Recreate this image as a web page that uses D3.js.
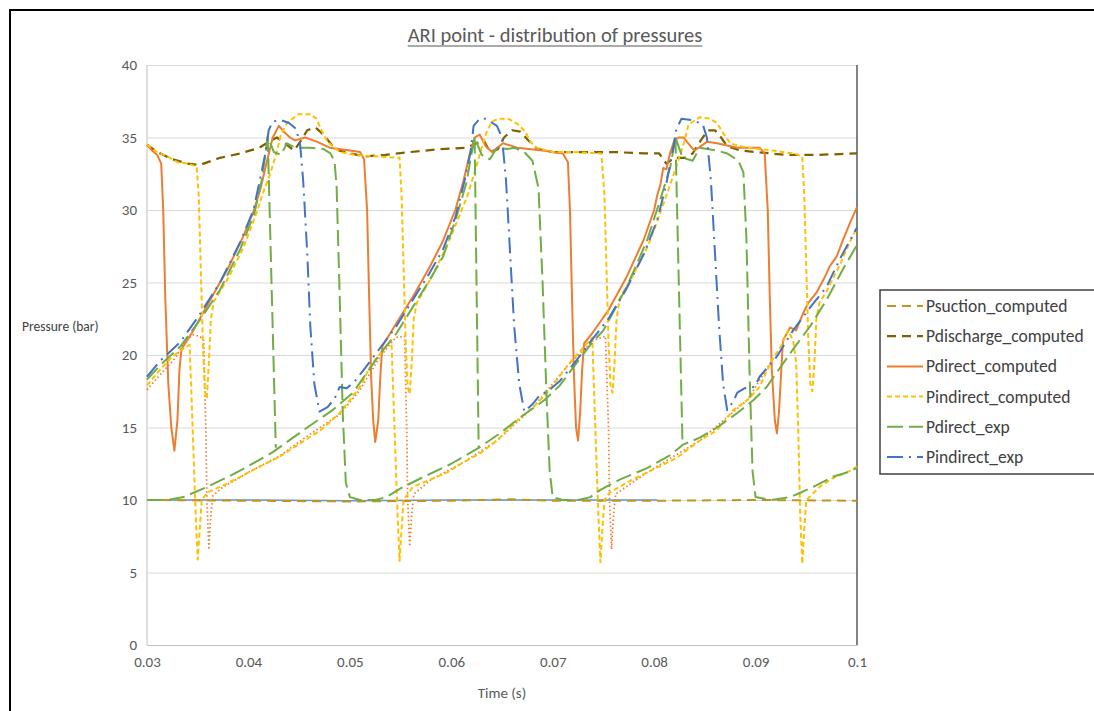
<!DOCTYPE html>
<html>
<head>
<meta charset="utf-8">
<script src="https://cdn.jsdelivr.net/npm/d3@7/dist/d3.min.js"></script>
<style>
  body { margin: 0; background: #fff; }
  svg text { font-family: Carlito, Calibri, Lato, sans-serif; }
</style>
</head>
<body>
<svg id="chart" width="1094" height="711"></svg>
<script>
// Tick labels
const xTicks = [0.03, 0.04, 0.05, 0.06, 0.07, 0.08, 0.09, 0.1];
const xTickLabels = ['0.03', '0.04', '0.05', '0.06', '0.07', '0.08', '0.09', '0.1'];
const yTicks = [0, 5, 10, 15, 20, 25, 30, 35, 40];

// [time (s), pressure (bar)], null = break in the line
const psuctionComputed = [
  [0.030, 10.0], [0.040, 9.95], [0.050, 9.9], [0.060, 9.95], [0.066, 10.05], [0.070, 9.95],
  [0.080, 9.95], [0.090, 10.0], [0.100, 9.95]
];

const pdischargeComputed = [
  [0.0300, 34.5], [0.0310, 34.0], [0.0325, 33.5], [0.0340, 33.2], [0.0352, 33.1], [0.0372, 33.6],
  [0.0392, 33.9], [0.0411, 34.3], [0.0420, 34.7], [0.0428, 35.0], [0.0436, 34.6], [0.0445, 34.1],
  [0.0452, 34.8], [0.0458, 35.5], [0.0466, 35.7], [0.0474, 35.2], [0.0482, 34.5], [0.0490, 34.1],
  [0.0500, 33.9], [0.0515, 33.7], [0.0535, 33.8], [0.0560, 34.0], [0.0590, 34.2], [0.0615, 34.3],
  [0.0625, 34.6], [0.0632, 34.8], [0.0638, 34.0], [0.0646, 34.2], [0.0652, 35.0], [0.0660, 35.5],
  [0.0668, 35.4], [0.0676, 34.8], [0.0685, 34.2], [0.0700, 34.0], [0.0730, 34.0], [0.0760, 34.0],
  [0.0790, 33.9], [0.0805, 33.9], [0.0812, 33.2], [0.0820, 33.6], [0.0830, 33.6], [0.0838, 33.9],
  [0.0846, 34.8], [0.0853, 35.5], [0.0860, 35.5], [0.0866, 35.0], [0.0872, 34.4], [0.0885, 34.1],
  [0.0900, 34.0], [0.0930, 33.8], [0.0960, 33.8], [0.1000, 33.9]
];

const pdirectComputed = [
  [0.0300, 34.5], [0.0305, 34.1], [0.0310, 33.8], [0.0314, 33.2], [0.0316, 30.0], [0.0318, 24.0],
  [0.0321, 18.0], [0.0324, 15.0], [0.0327, 13.4], [0.0330, 15.5], [0.0332, 19.0], [0.0334, 20.4],
  [0.0345, 21.6], [0.0360, 23.5], [0.0380, 26.0], [0.0395, 28.2], [0.0405, 29.9], [0.0412, 31.5],
  [0.0418, 33.3], [0.0424, 35.0], [0.0430, 35.8], [0.0435, 35.4], [0.0441, 35.0], [0.0446, 34.8],
  [0.0456, 35.0], [0.0468, 34.7], [0.0480, 34.3], [0.0500, 34.1], [0.0510, 34.0], [0.0514, 33.5],
  [0.0517, 30.0], [0.0519, 24.0], [0.0521, 18.5], [0.0523, 15.5], [0.0525, 14.0], [0.0528, 15.5],
  [0.0530, 18.5], [0.0532, 20.6], [0.0546, 22.2], [0.0562, 24.0], [0.0579, 26.1], [0.0592, 27.9],
  [0.0604, 30.0], [0.0612, 32.0], [0.0618, 33.8], [0.0623, 35.0], [0.0628, 35.2], [0.0634, 34.4],
  [0.0640, 34.0], [0.0651, 34.6], [0.0665, 34.3], [0.0690, 34.1], [0.0710, 33.9], [0.0715, 33.3],
  [0.0717, 30.0], [0.0719, 24.0], [0.0721, 18.5], [0.0723, 15.0], [0.0725, 14.1], [0.0727, 16.0],
  [0.0729, 19.0], [0.0731, 20.8], [0.0740, 21.6], [0.0755, 23.1], [0.0773, 25.4], [0.0790, 28.0],
  [0.0800, 30.0], [0.0803, 31.0], [0.0806, 31.7], [0.0809, 32.9], [0.0812, 32.8], [0.0816, 34.0],
  [0.0820, 34.8], [0.0824, 35.0], [0.0829, 35.0], [0.0837, 34.3], [0.0840, 34.1], [0.0852, 34.7],
  [0.0862, 34.6], [0.0882, 34.3], [0.0904, 34.3], [0.0909, 33.9], [0.0912, 30.0], [0.0914, 24.0],
  [0.0916, 19.0], [0.0919, 15.5], [0.0921, 14.6], [0.0923, 16.0], [0.0925, 18.5], [0.0927, 21.0],
  [0.0934, 21.9], [0.0940, 21.7], [0.0947, 22.9], [0.0952, 23.6], [0.0960, 24.3], [0.0967, 25.2],
  [0.0973, 26.1], [0.0980, 26.8], [0.0986, 27.9], [0.0993, 29.1], [0.1000, 30.2]
];

const pindirectComputed = [
  // high branch
  [0.0300, 34.5], [0.0310, 34.0], [0.0320, 33.7], [0.0330, 33.3], [0.0340, 33.2], [0.0349, 33.0],
  [0.0351, 31.0], [0.0353, 26.0], [0.0355, 21.0], [0.0357, 17.5], [0.0359, 17.0], [0.0361, 19.5],
  [0.0363, 22.5], [0.0366, 23.7], [0.0380, 25.3], [0.0395, 27.4], [0.0408, 29.8], [0.0416, 31.5],
  [0.0421, 32.4], [0.0425, 33.3], [0.0428, 34.0], [0.0432, 35.2], [0.0438, 36.0], [0.0449, 36.6],
  [0.0461, 36.6], [0.0467, 36.3], [0.0472, 35.5], [0.0478, 34.7], [0.0490, 34.0], [0.0505, 33.8],
  [0.0525, 33.7], [0.0549, 33.6], [0.0551, 31.0], [0.0553, 26.0], [0.0555, 21.0], [0.0557, 17.8],
  [0.0559, 17.3], [0.0561, 19.5], [0.0563, 22.5], [0.0566, 23.6], [0.0580, 25.3], [0.0595, 27.4],
  [0.0608, 29.6], [0.0616, 31.0], [0.0623, 32.6], [0.0630, 34.3], [0.0635, 35.4], [0.0640, 36.1],
  [0.0647, 36.3], [0.0656, 36.3], [0.0666, 35.9], [0.0673, 35.4], [0.0678, 34.7], [0.0684, 34.3],
  [0.0700, 34.0], [0.0720, 34.0], [0.0748, 33.9], [0.0751, 31.0], [0.0753, 26.0], [0.0755, 21.0],
  [0.0757, 17.8], [0.0759, 17.4], [0.0761, 19.5], [0.0763, 22.5], [0.0766, 23.9], [0.0780, 25.6],
  [0.0793, 27.4], [0.0803, 29.2], [0.0812, 31.0], [0.0820, 32.6], [0.0828, 34.3], [0.0834, 35.9],
  [0.0845, 36.4], [0.0855, 36.3], [0.0862, 36.0], [0.0868, 35.3], [0.0875, 34.6], [0.0891, 34.3],
  [0.0917, 34.1], [0.0937, 33.9], [0.0946, 33.7], [0.0948, 31.0], [0.0950, 26.0], [0.0952, 21.0],
  [0.0954, 18.0], [0.0956, 17.5], [0.0958, 19.5], [0.0960, 22.5], [0.0963, 23.6], [0.0970, 24.4],
  [0.0983, 26.2], [0.0993, 27.8], [0.1000, 28.8],
  null,
  // low branch
  [0.0300, 17.9], [0.0313, 19.0], [0.0325, 19.9], [0.0335, 20.4], [0.0342, 20.7], [0.0345, 15.0],
  [0.0348, 9.0], [0.0350, 5.9], [0.0352, 8.0], [0.0354, 10.0], [0.0359, 10.5], [0.0372, 10.9],
  [0.0392, 11.6], [0.0411, 12.3], [0.0431, 13.0], [0.0451, 13.9], [0.0471, 14.8], [0.0490, 16.0],
  [0.0510, 17.8], [0.0520, 19.2], [0.0532, 20.3], [0.0541, 21.0], [0.0544, 15.0], [0.0547, 9.0],
  [0.0549, 5.8], [0.0551, 8.0], [0.0553, 10.0], [0.0558, 10.5], [0.0562, 10.9], [0.0579, 11.4],
  [0.0596, 11.9], [0.0612, 12.6], [0.0628, 13.2], [0.0645, 14.1], [0.0665, 15.5], [0.0681, 16.4],
  [0.0697, 17.6], [0.0715, 19.3], [0.0730, 20.5], [0.0739, 21.2], [0.0742, 15.0], [0.0745, 9.0],
  [0.0747, 5.7], [0.0749, 8.0], [0.0751, 10.0], [0.0756, 10.5], [0.0773, 11.2], [0.0793, 11.9],
  [0.0808, 12.4], [0.0822, 12.9], [0.0845, 14.1], [0.0862, 14.8], [0.0878, 16.2], [0.0892, 16.9],
  [0.0904, 17.8], [0.0915, 19.5], [0.0925, 20.6], [0.0932, 21.7], [0.0937, 21.0], [0.0940, 19.5],
  [0.0942, 15.0], [0.0944, 9.0], [0.0946, 5.6], [0.0948, 8.0], [0.0950, 10.0], [0.0956, 10.4],
  [0.0963, 10.9], [0.0976, 11.5], [0.0990, 11.9], [0.1000, 12.3]
];

const pdirectExp = [
  [0.0300, 18.3], [0.0313, 19.3], [0.0333, 20.6], [0.0352, 22.4], [0.0372, 24.5], [0.0392, 27.3],
  [0.0406, 29.8], [0.0413, 32.0], [0.0417, 34.0], [0.0419, 35.1], [0.0425, 34.0], [0.0432, 33.8],
  [0.0438, 34.6], [0.0446, 34.3], [0.0460, 34.3], [0.0474, 34.2], [0.0481, 33.9], [0.0485, 33.3],
  [0.0487, 31.5], [0.0490, 24.0], [0.0493, 16.0], [0.0496, 11.2], [0.0500, 10.2], [0.0510, 10.0],
  [0.0525, 10.0], [0.0536, 10.2], [0.0550, 10.8], [0.0570, 11.5], [0.0600, 12.5], [0.0627, 13.6],
  [0.0648, 14.6], [0.0668, 15.7], [0.0692, 16.9], [0.0707, 17.9], [0.0722, 19.3], [0.0737, 20.7],
  [0.0750, 21.7], [0.0773, 24.7], [0.0793, 27.9], [0.0806, 30.7], [0.0816, 33.0], [0.0821, 35.0],
  [0.0828, 33.6], [0.0838, 33.4], [0.0845, 34.3], [0.0862, 34.1], [0.0872, 33.9], [0.0883, 33.4],
  [0.0888, 32.6], [0.0891, 28.0], [0.0894, 19.0], [0.0897, 12.0], [0.0900, 10.2], [0.0915, 10.0],
  [0.0934, 10.2], [0.0944, 10.5], [0.0957, 10.9], [0.0976, 11.6], [0.0990, 11.9], [0.1000, 12.2],
  null,
  [0.0300, 10.0], [0.0320, 10.0], [0.0336, 10.2], [0.0359, 10.9], [0.0380, 11.6], [0.0399, 12.3],
  [0.0424, 13.3], [0.0444, 14.3], [0.0458, 15.0], [0.0483, 16.2], [0.0503, 17.4], [0.0515, 18.6],
  [0.0530, 20.1], [0.0546, 21.5], [0.0562, 23.3], [0.0579, 25.2], [0.0592, 26.8], [0.0605, 29.5],
  [0.0615, 31.9], [0.0620, 33.9], [0.0623, 35.0], [0.0630, 33.8], [0.0638, 33.5], [0.0645, 34.3],
  [0.0655, 34.2], [0.0662, 34.3], [0.0672, 34.0], [0.0680, 33.4], [0.0686, 31.5], [0.0690, 25.0],
  [0.0694, 17.0], [0.0697, 12.0], [0.0700, 10.2], [0.0710, 10.0], [0.0725, 10.0], [0.0737, 10.2],
  [0.0747, 10.7], [0.0766, 11.4], [0.0793, 12.2], [0.0816, 13.1], [0.0828, 13.8], [0.0845, 14.3],
  [0.0862, 15.0], [0.0882, 16.0], [0.0898, 16.9], [0.0911, 17.8], [0.0921, 18.8], [0.0937, 20.4],
  [0.0954, 22.0], [0.0970, 23.8], [0.0986, 25.9], [0.0996, 27.1], [0.1000, 27.6],
  null,
  [0.0419, 35.1], [0.0427, 13.6],
  null,
  [0.0623, 35.0], [0.0627, 13.6],
  null,
  [0.0821, 35.0], [0.0828, 13.8]
];

const pindirectExp = [
  [0.0300, 18.5], [0.0313, 19.6], [0.0333, 20.9], [0.0352, 22.8], [0.0372, 25.0], [0.0392, 27.8],
  [0.0405, 30.0], [0.0412, 32.3], [0.0417, 34.0], [0.0420, 35.5], [0.0424, 36.1], [0.0432, 36.2],
  [0.0440, 36.0], [0.0447, 35.6], [0.0451, 34.5], [0.0454, 32.0], [0.0458, 27.0], [0.0461, 22.0],
  [0.0465, 18.0], [0.0470, 16.1], [0.0478, 16.4], [0.0485, 17.0], [0.0490, 17.8], [0.0497, 17.7],
  [0.0505, 18.2], [0.0515, 19.1], [0.0530, 20.5], [0.0546, 22.0], [0.0562, 23.8], [0.0579, 25.7],
  [0.0592, 27.3], [0.0604, 29.5], [0.0613, 32.0], [0.0619, 34.0], [0.0622, 35.8], [0.0628, 36.3],
  [0.0634, 36.3], [0.0645, 35.8], [0.0650, 35.0], [0.0654, 32.0], [0.0658, 27.0], [0.0662, 22.0],
  [0.0667, 18.0], [0.0672, 16.1], [0.0680, 16.6], [0.0687, 17.2], [0.0697, 17.6], [0.0707, 18.2],
  [0.0722, 19.5], [0.0737, 20.9], [0.0755, 22.5], [0.0773, 24.6], [0.0790, 27.0], [0.0803, 29.3],
  [0.0812, 31.8], [0.0818, 34.0], [0.0822, 35.6], [0.0827, 36.3], [0.0838, 36.2], [0.0848, 35.9],
  [0.0852, 35.0], [0.0856, 32.0], [0.0860, 27.0], [0.0864, 22.0], [0.0868, 18.0], [0.0872, 16.2],
  [0.0878, 16.8], [0.0882, 17.4], [0.0889, 17.7], [0.0899, 17.8], [0.0904, 18.5], [0.0921, 19.9],
  [0.0937, 21.7], [0.0954, 23.3], [0.0970, 24.7], [0.0983, 26.6], [0.0993, 27.9], [0.1000, 28.8]
];

// series not in the legend
const psuctionExp = [[0.030, 10.0], [0.040, 10.0], [0.050, 9.95], [0.060, 10.0], [0.070, 10.0], [0.0803, 10.0]];

const pindirectComputedAlt = [
  [0.0300, 17.6], [0.0315, 18.8], [0.0328, 19.8], [0.0338, 21.0], [0.0345, 21.4], [0.0352, 21.3],
  [0.0356, 21.0], [0.0358, 15.0], [0.0359, 10.0], [0.0361, 6.7], [0.0363, 9.0], [0.0365, 10.3],
  [0.0375, 10.9], [0.0400, 11.9], [0.0430, 13.0], [0.0460, 14.5], [0.0490, 15.9], [0.0510, 17.6],
  [0.0530, 19.9], [0.0545, 21.2], [0.0554, 21.3], [0.0556, 15.0], [0.0557, 10.0], [0.0559, 6.8],
  [0.0561, 9.0], [0.0563, 10.4], [0.0580, 11.4], [0.0612, 12.6], [0.0645, 14.1], [0.0681, 16.4],
  [0.0715, 19.3], [0.0740, 21.0], [0.0752, 21.3], [0.0755, 15.0], [0.0756, 10.0], [0.0758, 6.6],
  [0.0760, 9.0], [0.0762, 10.4], [0.0793, 11.9], [0.0845, 14.1], [0.0892, 16.9], [0.0915, 19.5]
];

const series = [
  {name: null, data: psuctionExp, color: '#5B9BD5', dash: null, width: 1.5},
  {name: null, data: pindirectComputedAlt, color: '#ED7D31', dash: '1.5,2.5', width: 1.75},
  {name: 'Psuction_computed', data: psuctionComputed, color: '#C4941F', dash: '9,6', width: 2},
  {name: 'Pdischarge_computed', data: pdischargeComputed, color: '#7F6000', dash: '9,6', width: 2.25},
  {name: 'Pdirect_computed', data: pdirectComputed, color: '#ED7D31', dash: null, width: 2},
  {name: 'Pindirect_computed', data: pindirectComputed, color: '#FFC000', dash: '5,3', width: 2},
  {name: 'Pdirect_exp', data: pdirectExp, color: '#70AD47', dash: '16,6', width: 2},
  {name: 'Pindirect_exp', data: pindirectExp, color: '#4472C4', dash: '16,6,2,6', width: 2}
];

// Set the dimensions of the graph
const margin = {top: 65, right: 237, bottom: 66, left: 147};
const width = 1094 - margin.left - margin.right;
const height = 711 - margin.top - margin.bottom;

const svg = d3.select('#chart');

// outer frame of the chart
svg.append('rect')
  .attr('x', 10).attr('y', 10)
  .attr('width', 1110).attr('height', 720)
  .attr('fill', 'none').attr('stroke', '#000').attr('stroke-width', 2);

const g = svg.append('g')
  .attr('transform', `translate(${margin.left}, ${margin.top})`);

const x = d3.scaleLinear().domain([0.03, 0.1]).range([0, width]);
const y = d3.scaleLinear().domain([0, 40]).range([height, 0]);

// gridlines + y labels
const yAxis = d3.axisLeft(y)
  .tickValues(yTicks)
  .tickSize(-width)
  .tickPadding(10)
  .tickFormat(d3.format('d'));

g.append('g').attr('class', 'y axis').call(yAxis)
  .call(a => a.select('.domain').remove())
  .call(a => a.selectAll('line').attr('stroke', '#D9D9D9').attr('stroke-width', 1))
  .call(a => a.selectAll('text').attr('fill', '#595959').attr('font-size', 15));

const xAxis = d3.axisBottom(x)
  .tickValues(xTicks)
  .tickSize(0)
  .tickPadding(11)
  .tickFormat((d, i) => xTickLabels[i]);

g.append('g').attr('class', 'x axis')
  .attr('transform', `translate(0, ${height})`)
  .call(xAxis)
  .call(a => a.select('.domain').attr('stroke', '#BFBFBF'))
  .call(a => a.selectAll('text').attr('fill', '#595959').attr('font-size', 15));

// left axis line and right border of the plot area
g.append('line').attr('x1', 0).attr('x2', 0).attr('y1', 0).attr('y2', height)
  .attr('stroke', '#BFBFBF');
g.append('line').attr('x1', width).attr('x2', width).attr('y1', 0).attr('y2', height)
  .attr('stroke', '#595959').attr('stroke-width', 1.5);

// Define the line
const valueline = d3.line()
  .defined(d => d !== null)
  .x(d => x(d[0]))
  .y(d => y(d[1]));

series.forEach(s => {
  g.append('path')
    .attr('d', valueline(s.data))
    .attr('fill', 'none')
    .attr('stroke', s.color)
    .attr('stroke-width', s.width)
    .attr('stroke-dasharray', s.dash)
    .attr('stroke-linejoin', 'round');
});

// title
const title = svg.append('text')
  .attr('x', 555).attr('y', 42)
  .attr('text-anchor', 'middle')
  .attr('fill', '#595959')
  .attr('font-size', 20.5)
  .text('ARI point - distribution of pressures');
const tw = title.node().getComputedTextLength();
svg.append('line')
  .attr('x1', 555 - tw / 2).attr('x2', 555 + tw / 2)
  .attr('y1', 46).attr('y2', 46)
  .attr('stroke', '#595959').attr('stroke-width', 1.2);

// axis titles
svg.append('text')
  .attr('x', 22).attr('y', 331)
  .attr('fill', '#404040')
  .attr('font-size', 13.5)
  .text('Pressure (bar)');

svg.append('text')
  .attr('x', margin.left + width / 2).attr('y', 698)
  .attr('text-anchor', 'middle')
  .attr('fill', '#595959')
  .attr('font-size', 15)
  .text('Time (s)');

// legend
const legendItems = series.filter(s => s.name);
const legend = svg.append('g').attr('transform', 'translate(880, 290)');
legend.append('rect')
  .attr('width', 240).attr('height', 184)
  .attr('fill', '#fff').attr('stroke', '#404040').attr('stroke-width', 1.5);

legendItems.forEach((s, i) => {
  const ly = 16 + i * 30.2;
  legend.append('line')
    .attr('x1', 7).attr('x2', 43)
    .attr('y1', ly).attr('y2', ly)
    .attr('stroke', s.color)
    .attr('stroke-width', s.width)
    .attr('stroke-dasharray', s.dash);
  legend.append('text')
    .attr('x', 46).attr('y', ly + 6)
    .attr('fill', '#404040')
    .attr('font-size', 17.5)
    .text(s.name);
});
</script>
</body>
</html>
